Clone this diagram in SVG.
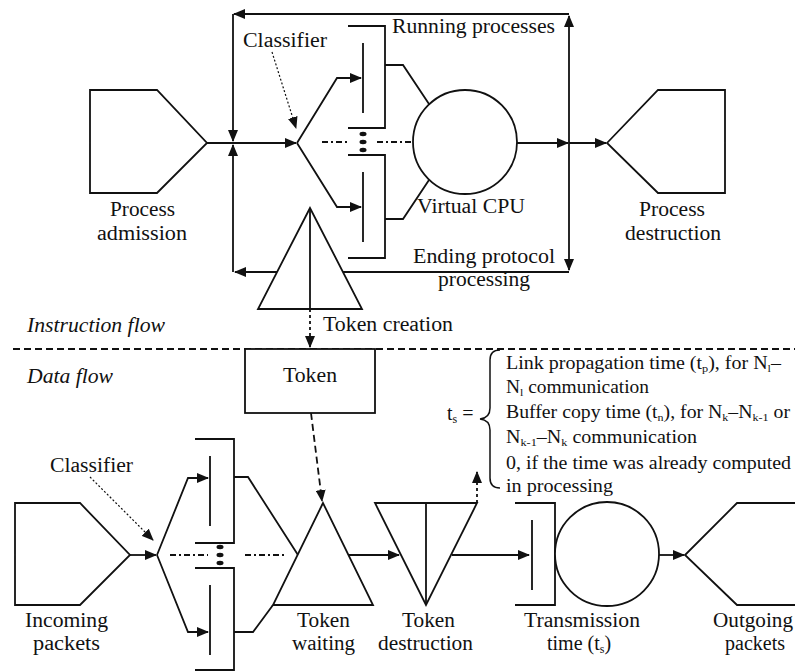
<svg xmlns="http://www.w3.org/2000/svg" width="795" height="672" viewBox="0 0 795 672" font-family="Liberation Serif, DejaVu Serif, serif">
<defs>
<marker id="ah" markerUnits="userSpaceOnUse" markerWidth="12" markerHeight="10" refX="11" refY="5" orient="auto" viewBox="0 0 12 10"><path d="M0,0 L12,5 L0,10 z" fill="#111"/></marker>
<style>
.s{fill:none;stroke:#111;stroke-width:1.8}
.w{fill:#fff;stroke:#111;stroke-width:1.8}
.t{font-family:'Liberation Serif','DejaVu Serif',serif;font-size:20px;fill:#111}
.i{font-style:italic}
.sm{font-size:18px}
.dash{stroke-dasharray:7 4}
.dd{stroke-dasharray:6 3 2 3}
.sd{stroke-dasharray:3 3}
.dot{stroke-dasharray:2 2;stroke-width:1.2}
.ar{marker-end:url(#ah)}
</style>
</defs>
<rect width="795" height="672" fill="#fff"/>
<g id="connectors">
  <path class="s ar" d="M207,143 H296"/>
  <path class="s ar" d="M569,14 H234"/>
  <path class="s ar" d="M233,14 V141"/>
  <path class="s ar" d="M569,272 H235"/>
  <path class="s ar" d="M233,272 V145"/>
  <path class="s ar" d="M569,143 V16"/>
  <path class="s ar" d="M569,143 V270"/>
  <path class="s ar" d="M517,143 H568"/>
  <path class="s ar" d="M569,143 H606"/>
  <path class="s ar" d="M297,143 L337,78 H361"/>
  <path class="s ar" d="M297,143 L337,207 H361"/>
  <path class="s dd" d="M322,142 H350 M377,142 H413"/>
  <path class="s" d="M385,65 H403 L429,104"/>
  <path class="s" d="M385,219 H403 L429,180"/>
  <path class="s dot ar" d="M272,52 L296,128"/>
  <path class="s sd ar" d="M310,309 V347"/>
  <path class="s dash" d="M13,349 H795"/>
  <path class="s dash ar" d="M311,413 L322,501"/>
  <path class="s ar" d="M130,555 H156"/>
  <path class="s ar" d="M157,555 L188,478 H208"/>
  <path class="s ar" d="M157,555 L188,632 H208"/>
  <path class="s dd" d="M170,555 H208 M245,555 H287"/>
  <path class="s" d="M234,477 H248 L298,555"/>
  <path class="s" d="M234,632 H253 L273,605"/>
  <path class="s dot ar" d="M90,477 L153,540"/>
  <path class="s ar" d="M349,555 H399"/>
  <path class="s ar" d="M452,555 H529"/>
  <path class="s ar" d="M659,555 H684"/>
  <path class="s sd ar" d="M477,503 V472"/>
</g>
<g id="process-admission">
  <polygon class="w" points="90,90 157,90 207,143 157,193 90,193"/>
  <text class="t" x="110" y="216" textLength="65" lengthAdjust="spacingAndGlyphs">Process</text>
  <text class="t" x="97" y="240" textLength="90" lengthAdjust="spacingAndGlyphs">admission</text>
</g>
<g id="classifier-top">
  <text class="t" x="243" y="47" textLength="84" lengthAdjust="spacingAndGlyphs">Classifier</text>
</g>
<g id="queue-top-1">
  <path class="s" d="M348,26 H385 V128 H348 M363,43 V113"/>
</g>
<g id="queue-top-2">
  <path class="s" d="M348,155 H385 V258 H348 M363,172 V242"/>
</g>
<g id="dots-top" fill="#111">
  <ellipse cx="363" cy="134" rx="3.5" ry="2.2"/>
  <ellipse cx="363" cy="142" rx="3.5" ry="2.2"/>
  <ellipse cx="363" cy="150" rx="3.5" ry="2.2"/>
</g>
<g id="virtual-cpu">
  <circle class="w" cx="465" cy="142" r="52"/>
  <text class="t" x="417" y="213" textLength="108" lengthAdjust="spacingAndGlyphs">Virtual CPU</text>
</g>
<g id="running-processes">
  <text class="t" x="392" y="33" textLength="163" lengthAdjust="spacingAndGlyphs">Running processes</text>
</g>
<g id="ending-protocol">
  <text class="t" x="413" y="263" textLength="142" lengthAdjust="spacingAndGlyphs">Ending protocol</text>
  <text class="t" x="438" y="286" textLength="92" lengthAdjust="spacingAndGlyphs">processing</text>
</g>
<g id="process-destruction">
  <polygon class="w" points="607,143 658,90 725,90 725,193 658,193"/>
  <text class="t" x="639" y="216" textLength="66" lengthAdjust="spacingAndGlyphs">Process</text>
  <text class="t" x="625" y="240" textLength="96" lengthAdjust="spacingAndGlyphs">destruction</text>
</g>
<g id="token-creation">
  <polygon class="w" points="310,208 258,309 362,309"/>
  <path class="s" d="M310,208 V309"/>
  <text class="t" x="323" y="331" textLength="130" lengthAdjust="spacingAndGlyphs">Token creation</text>
</g>
<g id="flow-labels">
  <text class="t i" x="27" y="332" textLength="138" lengthAdjust="spacingAndGlyphs">Instruction flow</text>
  <text class="t i" x="27" y="383" textLength="86" lengthAdjust="spacingAndGlyphs">Data flow</text>
</g>
<g id="token">
  <rect class="w" x="245" y="349" width="130" height="64"/>
  <text class="t" x="283" y="382" textLength="54" lengthAdjust="spacingAndGlyphs">Token</text>
</g>
<g id="ts-definition">
  <path class="s" style="stroke-width:1.5" d="M500,350 Q490,350 490,360 V408 Q490,418 480,419 Q490,420 490,430 V478 Q490,488 500,488"/>
  <text class="t" x="447" y="420">t<tspan font-size="12" dy="3">s</tspan><tspan dy="-3"> =</tspan></text>
  <text class="t sm" x="506" y="369" textLength="275" lengthAdjust="spacingAndGlyphs">Link propagation time (t<tspan font-size="11" dy="3">p</tspan><tspan dy="-3">), for N</tspan><tspan font-size="11" dy="3">l</tspan><tspan dy="-3">–</tspan></text>
  <text class="t sm" x="506" y="393" textLength="143" lengthAdjust="spacingAndGlyphs">N<tspan font-size="11" dy="3">l</tspan><tspan dy="-3"> communication</tspan></text>
  <text class="t sm" x="506" y="418" textLength="284" lengthAdjust="spacingAndGlyphs">Buffer copy time (t<tspan font-size="11" dy="3">n</tspan><tspan dy="-3">), for N</tspan><tspan font-size="11" dy="3">k</tspan><tspan dy="-3">–N</tspan><tspan font-size="11" dy="3">k-1</tspan><tspan dy="-3"> or</tspan></text>
  <text class="t sm" x="506" y="443" textLength="191" lengthAdjust="spacingAndGlyphs">N<tspan font-size="11" dy="3">k-1</tspan><tspan dy="-3">–N</tspan><tspan font-size="11" dy="3">k</tspan><tspan dy="-3"> communication</tspan></text>
  <text class="t sm" x="506" y="469" textLength="285" lengthAdjust="spacingAndGlyphs">0, if the time was already computed</text>
  <text class="t sm" x="506" y="492" textLength="107" lengthAdjust="spacingAndGlyphs">in processing</text>
</g>
<g id="incoming-packets">
  <polygon class="w" points="15,503 80,503 130,555 80,605 15,605"/>
  <text class="t" x="25" y="627" textLength="83" lengthAdjust="spacingAndGlyphs">Incoming</text>
  <text class="t" x="33" y="650" textLength="67" lengthAdjust="spacingAndGlyphs">packets</text>
</g>
<g id="classifier-bottom">
  <text class="t" x="50" y="472" textLength="83" lengthAdjust="spacingAndGlyphs">Classifier</text>
</g>
<g id="queue-bottom-1">
  <path class="s" d="M195,439 H234 V543 H195 M210,456 V526"/>
</g>
<g id="queue-bottom-2">
  <path class="s" d="M195,568 H234 V670 H195 M210,585 V655"/>
</g>
<g id="dots-bottom" fill="#111">
  <ellipse cx="220" cy="547" rx="3.5" ry="2.2"/>
  <ellipse cx="220" cy="555" rx="3.5" ry="2.2"/>
  <ellipse cx="220" cy="563" rx="3.5" ry="2.2"/>
</g>
<g id="token-waiting">
  <polygon class="w" points="323,503 273,605 373,605"/>
  <text class="t" x="297" y="627" textLength="53" lengthAdjust="spacingAndGlyphs">Token</text>
  <text class="t" x="292" y="650" textLength="63" lengthAdjust="spacingAndGlyphs">waiting</text>
</g>
<g id="token-destruction">
  <polygon class="w" points="375,503 477,503 426,605"/>
  <path class="s" d="M426,503 V605"/>
  <text class="t" x="402" y="627" textLength="53" lengthAdjust="spacingAndGlyphs">Token</text>
  <text class="t" x="378" y="650" textLength="95" lengthAdjust="spacingAndGlyphs">destruction</text>
</g>
<g id="transmission">
  <path class="s" d="M515,503 H555 V605 H515 M532,520 V590"/>
  <circle class="w" cx="607" cy="554" r="52"/>
  <text class="t" x="524" y="627" textLength="116" lengthAdjust="spacingAndGlyphs">Transmission</text>
  <text class="t" x="547" y="650">time (t<tspan font-size="12" dy="3">s</tspan><tspan dy="-3">)</tspan></text>
</g>
<g id="outgoing-packets">
  <polyline class="s" points="795,503 737,503 685,555 737,605 795,605"/>
  <text class="t" x="713" y="627" textLength="80" lengthAdjust="spacingAndGlyphs">Outgoing</text>
  <text class="t" x="725" y="650" textLength="60" lengthAdjust="spacingAndGlyphs">packets</text>
</g>
</svg>
